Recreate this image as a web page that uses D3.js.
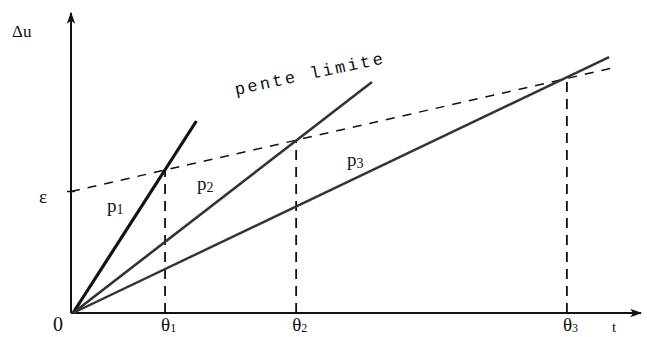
<!DOCTYPE html>
<html>
<head>
<meta charset="utf-8">
<script src="https://cdn.jsdelivr.net/npm/d3@7"></script>
<style>
  body { margin: 0; background: #fff; }
  text { font-family: "Liberation Serif", "DejaVu Serif", serif; fill: #111; }
</style>
</head>
<body>
<div id="chart"></div>
<script>
// data (t, Δu in arbitrary units)
var epsilon = 4.05;
var limitEnd = [9.58, 8.2];
var thetaNames = ["1", "2", "3"];
var thetaT = [1.65, 3.95, 8.7];
var thetaU = [4.76, 5.76, 7.82];
var lineNames = ["1", "2", "3"];
var lineEndT = [2.2, 5.28, 9.44];
var lineEndU = [6.4, 7.7, 8.53];
var lineWidths = [3.2, 2.6, 2.4];

var W = 647, H = 337;
var x = d3.scaleLinear().domain([0, 10]).range([71, 641]);
var y = d3.scaleLinear().domain([0, 10]).range([313, 13]);

var svg = d3.select("#chart").append("svg").attr("width", W).attr("height", H);

var defs = svg.append("defs");
defs.append("marker").attr("id", "arrow").attr("viewBox", "0 0 10 10")
  .attr("refX", 9).attr("refY", 5).attr("markerWidth", 6).attr("markerHeight", 6)
  .attr("markerUnits", "strokeWidth").attr("orient", "auto")
  .append("path").attr("d", "M0,1.5 L10,5 L0,8.5 L2.5,5 Z").style("fill", "#111");

// axes
svg.append("line").attr("x1", x(0)).attr("y1", y(0)).attr("x2", x(10)).attr("y2", y(0))
  .style("stroke", "#111").style("stroke-width", 2).attr("marker-end", "url(#arrow)");
svg.append("line").attr("x1", x(0)).attr("y1", y(0)).attr("x2", x(0)).attr("y2", y(10))
  .style("stroke", "#111").style("stroke-width", 2).attr("marker-end", "url(#arrow)");

// epsilon tick
svg.append("line").attr("x1", x(0) - 4).attr("y1", y(epsilon)).attr("x2", x(0) + 4).attr("y2", y(epsilon))
  .style("stroke", "#111").style("stroke-width", 1.5);

// pente limite (dashed)
svg.append("line").attr("x1", x(0)).attr("y1", y(epsilon)).attr("x2", x(limitEnd[0])).attr("y2", y(limitEnd[1]))
  .style("stroke", "#111").style("stroke-width", 1.5).style("stroke-dasharray", "9,8");

// vertical dashed lines at theta
svg.append("g").selectAll("line")
  .data(thetaT).enter()
  .append("line")
  .attr("x1", function(d){return x(d)}).attr("x2", function(d){return x(d)})
  .attr("y1", y(0)).attr("y2", function(d,i){return y(thetaU[i])})
  .style("stroke", "#111").style("stroke-width", 1.8).style("stroke-dasharray", "10,7");

// p lines
svg.append("g").selectAll("line")
  .data(lineEndT).enter()
  .append("line")
  .attr("x1", x(0) + 2).attr("y1", y(0))
  .attr("x2", function(d){return x(d)}).attr("y2", function(d,i){return y(lineEndU[i])})
  .style("stroke", function(d,i){return i == 0 ? "#111" : "#333"})
  .style("stroke-width", function(d,i){return lineWidths[i]});

// theta labels
var th = svg.append("g").selectAll("text")
  .data(thetaT).enter()
  .append("text")
  .attr("x", function(d){return x(d) - 4}).attr("y", 331)
  .style("font-size", "19px");
th.append("tspan").text("θ");
th.append("tspan").attr("dy", 1).style("font-size", "12px").text(function(d,i){return thetaNames[i]});

// p labels
var pPos = [[107, 212], [197, 190], [347, 166]];
var pl = svg.append("g").selectAll("text")
  .data(lineNames).enter()
  .append("text")
  .attr("x", function(d,i){return pPos[i][0]}).attr("y", function(d,i){return pPos[i][1]})
  .style("font-size", "19px");
pl.append("tspan").text("p");
pl.append("tspan").attr("dy", 2).style("font-size", "14px").text(function(d){return d});

svg.append("text").attr("x", 12).attr("y", 37).style("font-size", "17px").text("Δu");
svg.append("text").attr("x", 39).attr("y", 203).style("font-size", "19px").text("ε");
svg.append("text").attr("x", 53).attr("y", 331).style("font-size", "20px").text("0");
svg.append("text").attr("x", 612).attr("y", 332).style("font-size", "15px").text("t");

svg.append("text").attr("transform", "translate(236,95) rotate(-12)")
  .style("font-family", "'Liberation Mono', 'DejaVu Sans Mono', monospace")
  .style("font-size", "17px").style("letter-spacing", "2.6px").text("pente limite");
</script>
</body>
</html>
